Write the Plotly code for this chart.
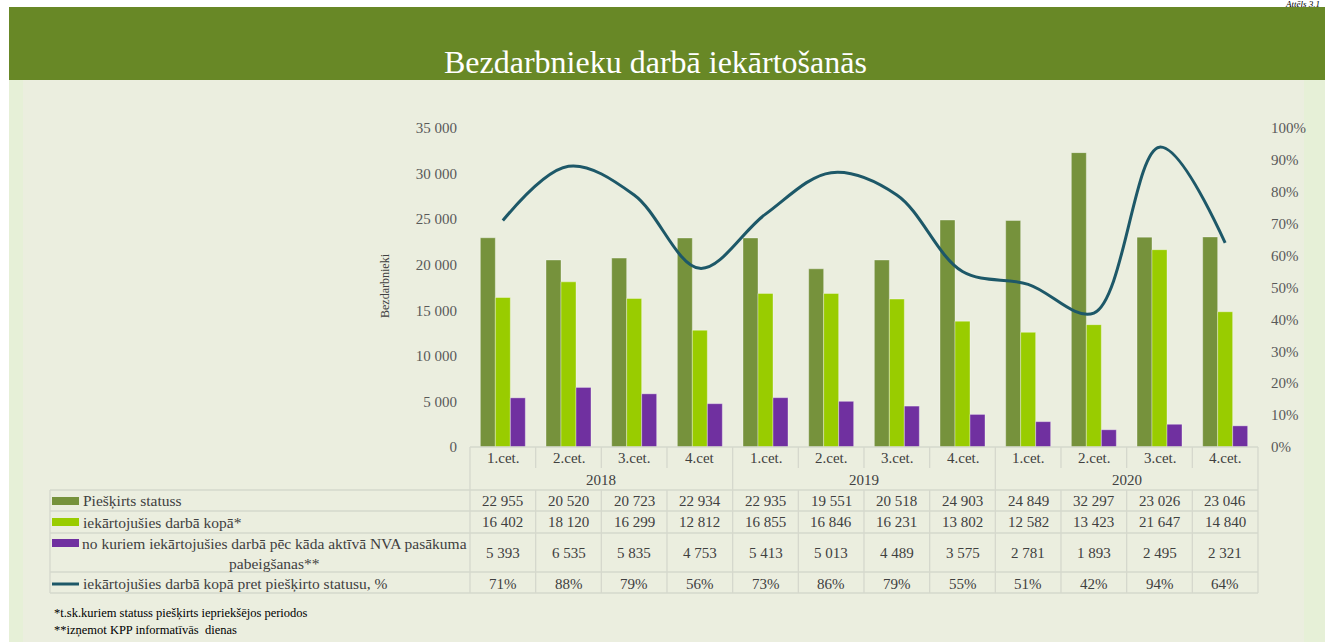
import plotly.graph_objects as go

W, H = 1325, 642

years = ["2018", "2019", "2020"]
quarters = ["1.cet.", "2.cet.", "3.cet.", "4.cet",
            "1.cet.", "2.cet.", "3.cet.", "4.cet.",
            "1.cet.", "2.cet.", "3.cet.", "4.cet."]
status = [22955, 20520, 20723, 22934, 22935, 19551, 20518, 24903, 24849, 32297, 23026, 23046]
employed = [16402, 18120, 16299, 12812, 16855, 16846, 16231, 13802, 12582, 13423, 21647, 14840]
after_nva = [5393, 6535, 5835, 4753, 5413, 5013, 4489, 3575, 2781, 1893, 2495, 2321]
share_pct = [71, 88, 79, 56, 73, 86, 79, 55, 51, 42, 94, 64]

series_names = [
    "Piešķirts statuss",
    "iekārtojušies darbā kopā*",
    "no kuriem iekārtojušies darbā pēc kāda aktīvā NVA pasākuma<br>pabeigšanas**",
    "iekārtojušies darbā kopā pret piešķirto statusu, %",
]

C_DARK = "#76923C"
C_LIGHT = "#99CC00"
C_PURPLE = "#7030A0"
C_LINE = "#1D5868"
C_GRID = "#D5D8CC"
C_TEXT = "#404040"
FONT = "Liberation Serif"


def px(x):
    return x / W


def py(y):
    return 1 - y / H


X0, X1 = 470, 1258  # plot area in pixels
Y_TOP, Y_BOT = 128, 447
idx = list(range(len(quarters)))

fig = go.Figure()
for vals, col, name in [(status, C_DARK, series_names[0]),
                        (employed, C_LIGHT, series_names[1]),
                        (after_nva, C_PURPLE, series_names[2])]:
    fig.add_trace(go.Bar(x=idx, y=vals, name=name, marker_color=col,
                         marker_line=dict(color="rgba(255,255,255,0.35)", width=1)))

fig.add_trace(go.Scatter(
    x=idx, y=[v / 100 for v in share_pct], yaxis="y2", mode="lines",
    line=dict(color=C_LINE, width=3, shape="spline", smoothing=1.0),
    name=series_names[3],
))

shapes = [
    # outer backgrounds
    dict(type="rect", xref="paper", yref="paper", x0=px(9), x1=1, y0=0, y1=py(80),
         fillcolor="#E6F0D7", line_width=0, layer="below"),
    dict(type="rect", xref="paper", yref="paper", x0=px(23), x1=px(1304), y0=0, y1=py(80),
         fillcolor="#EBEEDF", line_width=0, layer="below"),
    dict(type="rect", xref="paper", yref="paper", x0=px(9), x1=1, y0=py(80), y1=py(7),
         fillcolor="#688826", line_width=0, layer="below"),
]

def hline(y, x0, x1):
    shapes.append(dict(type="line", xref="paper", yref="paper", x0=px(x0), x1=px(x1),
                       y0=py(y), y1=py(y), line=dict(color=C_GRID, width=1.3)))

def vline(x, y0, y1, xref="paper"):
    xv = px(x) if xref == "paper" else x
    shapes.append(dict(type="line", xref=xref, yref="paper", x0=xv, x1=xv,
                       y0=py(y0), y1=py(y1), line=dict(color=C_GRID, width=1.3)))

# table grid
row_lines = [490, 511, 533, 572, 593]
hline(Y_BOT, X0, X1)
for y in row_lines:
    hline(y, 50, X1)
vline(50, 490, 593)
vline(X0, Y_BOT, 593)
vline(X1, Y_BOT, 593)
for i in range(1, len(quarters)):
    b = i - 0.5
    if i % 4 == 0:
        vline(b, Y_BOT, 593, xref="x")
    else:
        vline(b, Y_BOT, 468, xref="x")
        vline(b, 490, 593, xref="x")

# legend keys in table
for y, col in [(501, C_DARK), (522, C_LIGHT), (543, C_PURPLE)]:
    shapes.append(dict(type="rect", xref="paper", yref="paper", x0=px(52), x1=px(79),
                       y0=py(y + 4), y1=py(y - 4), fillcolor=col, line_width=0))
shapes.append(dict(type="line", xref="paper", yref="paper", x0=px(52), x1=px(79),
                   y0=py(584), y1=py(584), line=dict(color=C_LINE, width=3)))

ann = []
tf = dict(family=FONT, size=15, color=C_TEXT)
lf = dict(family=FONT, size=15.5, color=C_TEXT)

for i, q in enumerate(quarters):
    ann.append(dict(x=i, y=py(458), xref="x", yref="paper", text=q, showarrow=False,
                    font=tf, xanchor="center", yanchor="middle"))
for k, yr in enumerate(years):
    ann.append(dict(x=k * 4 + 1.5, y=py(480), xref="x", yref="paper", text=yr,
                    showarrow=False, font=tf, xanchor="center", yanchor="middle"))

def fmt(v):
    return f"{v:,}".replace(",", " ")

row_y = [501, 522, 553, 584]
rows = [[fmt(v) for v in status], [fmt(v) for v in employed],
        [fmt(v) for v in after_nva], [f"{v}%" for v in share_pct]]
for ry, vals in zip(row_y, rows):
    for i, t in enumerate(vals):
        ann.append(dict(x=i, y=py(ry), xref="x", yref="paper", text=t, showarrow=False,
                        font=tf, xanchor="center", yanchor="middle"))

ann.append(dict(x=px(81), y=py(501), xref="paper", yref="paper", text=series_names[0],
                showarrow=False, font=lf, xanchor="left", yanchor="middle"))
ann.append(dict(x=px(81), y=py(522), xref="paper", yref="paper", text=series_names[1],
                showarrow=False, font=lf, xanchor="left", yanchor="middle"))
ann.append(dict(x=px(274), y=py(553), xref="paper", yref="paper", text=series_names[2],
                showarrow=False, font=lf, xanchor="center", yanchor="middle", align="center"))
ann.append(dict(x=px(81), y=py(584), xref="paper", yref="paper", text=series_names[3],
                showarrow=False, font=lf, xanchor="left", yanchor="middle"))

# titles and notes
ann.append(dict(x=px(655), y=py(62), xref="paper", yref="paper",
                text="Bezdarbnieku darbā iekārtošanās", showarrow=False,
                font=dict(family=FONT, size=32, color="white"),
                xanchor="center", yanchor="middle"))
ann.append(dict(x=px(385), y=py(286), xref="paper", yref="paper", text="Bezdarbnieki",
                showarrow=False, textangle=-90,
                font=dict(family=FONT, size=12, color=C_TEXT),
                xanchor="center", yanchor="middle"))
ann.append(dict(x=px(1322), y=py(3.5), xref="paper", yref="paper", text="<i>Attēls 3.1</i>",
                showarrow=False, font=dict(family=FONT, size=9, color="black"),
                xanchor="right", yanchor="middle"))
ann.append(dict(x=px(52), y=py(613), xref="paper", yref="paper",
                text="*t.sk.kuriem statuss piešķirts iepriekšējos periodos",
                showarrow=False, font=dict(family=FONT, size=12.5, color="black"),
                xanchor="left", yanchor="middle"))
ann.append(dict(x=px(52), y=py(630), xref="paper", yref="paper",
                text="**izņemot KPP informatīvās  dienas",
                showarrow=False, font=dict(family=FONT, size=12.5, color="black"),
                xanchor="left", yanchor="middle"))

axfont = dict(family=FONT, size=15, color="#595959")
fig.update_layout(
    width=W, height=H,
    margin=dict(l=0, r=0, t=0, b=0, pad=0, autoexpand=False),
    paper_bgcolor="white", plot_bgcolor="rgba(0,0,0,0)",
    separators=", ",
    barmode="group", bargap=0.315, bargroupgap=0,
    showlegend=False,
    xaxis=dict(domain=[px(X0), px(X1)], range=[-0.5, len(quarters) - 0.5],
               showticklabels=False, showgrid=False, zeroline=False, ticks="",
               automargin=False),
    yaxis=dict(domain=[py(Y_BOT), py(Y_TOP)], range=[0, 35000], dtick=5000,
               tickformat=",d", showgrid=False, zeroline=False, ticks="",
               tickfont=axfont, ticklabelstandoff=12, automargin=False),
    yaxis2=dict(overlaying="y", side="right", range=[0, 1], dtick=0.1,
                tickformat=".0%", showgrid=False, zeroline=False, ticks="",
                tickfont=axfont, ticklabelstandoff=12, automargin=False),
    shapes=shapes,
    annotations=ann,
)

fig.write_html("out.html", config={"displayModeBar": False},
               post_script="document.body.style.margin='0';")
